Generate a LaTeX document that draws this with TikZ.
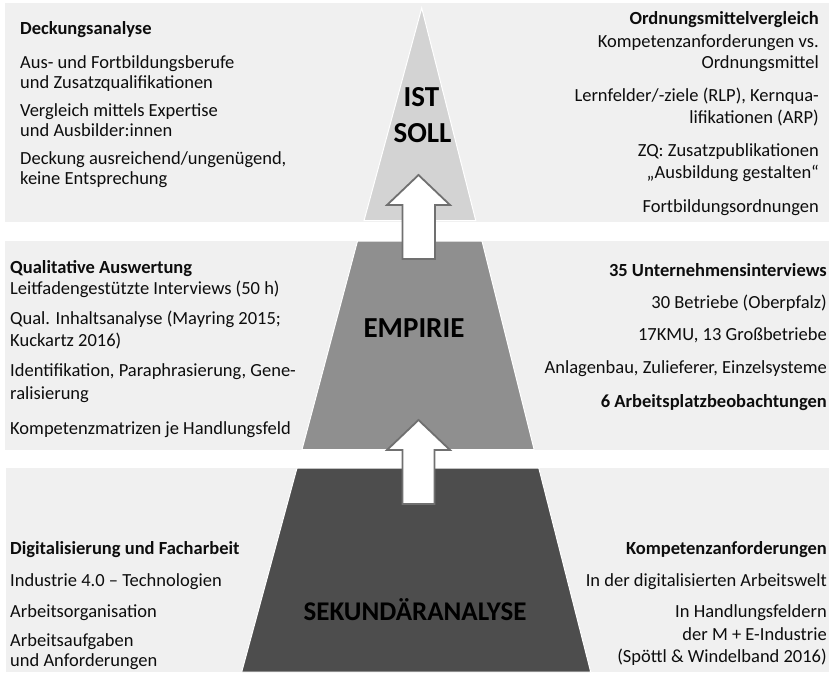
\documentclass[tikz,border=0pt]{standalone}
\usepackage{fontspec}
\setmainfont{Carlito}
\definecolor{bandgray}{HTML}{F0F0F0}
\definecolor{topseg}{HTML}{D3D3D3}
\definecolor{midseg}{HTML}{8F8F8F}
\definecolor{botseg}{HTML}{4D4D4D}
\definecolor{arrowline}{HTML}{707070}
\definecolor{txt}{HTML}{0D0D0D}
\tikzset{
  band/.style={fill=bandgray, draw=none},
  seg/.style={draw=white, line width=1pt},
  uparrow/.style={fill=white, draw=arrowline, line width=1.8pt, line join=miter},
  ltxt/.style={anchor=base west, inner sep=0pt, font=\fontsize{18.5}{21}\selectfont, text=txt},
  rtxt/.style={anchor=base east, inner sep=0pt, font=\fontsize{18.5}{21}\selectfont, text=txt},
  lhead/.style={ltxt, font=\fontsize{18.5}{21}\selectfont\bfseries},
  rhead/.style={rtxt, font=\fontsize{18.5}{21}\selectfont\bfseries},
  biglabel/.style={anchor=center, inner sep=0pt, font=\fontsize{29}{34}\selectfont\bfseries, text=black},
}
\begin{document}
\begin{tikzpicture}[x=1pt,y=-1pt]
\useasboundingbox (0,0) rectangle (829,672);
% bands
\fill[band] (5,3) rectangle (829,221.7);
\fill[band] (5,240.5) rectangle (829,450);
\fill[band] (6,467.7) rectangle (829,672);
% pyramid segments
\filldraw[seg, fill=topseg] (421.7,8) -- (475.8,220.7) -- (364.0,220.7) -- cycle;
\filldraw[seg, fill=midseg] (357.5,241) -- (482.0,241) -- (534.1,449.5) -- (302.0,449.5) -- cycle;
\filldraw[seg, fill=botseg] (297.0,468) -- (538.8,468) -- (590.7,672) -- (241.7,672) -- cycle;
% arrows
\draw[uparrow] (418.5,175) -- (450,205) -- (435,205) -- (435,259) -- (402.5,259) -- (402.5,205) -- (387,205) -- cycle;
\draw[uparrow] (418.5,420) -- (450,450) -- (434.5,450) -- (434.5,504) -- (402.5,504) -- (402.5,450) -- (387,450) -- cycle;
% center labels
\node[biglabel] (ist) at (421.5,97) {IST};
\node[biglabel] (soll) at (422.5,133) {SOLL};
\node[biglabel] (emp) at (414,328) {EMPIRIE};
\node[biglabel, font=\fontsize{27}{32}\selectfont\bfseries] (sek) at (415,610) {SEKUNDÄRANALYSE};
% top left
\node[lhead] (tl0) at (20,34) {Deckungsanalyse};
\node[ltxt] (tl1) at (20,68) {Aus- und Fortbildungsberufe};
\node[ltxt] (tl2) at (20,88) {und Zusatzqualifikationen};
\node[ltxt] (tl3) at (20,116) {Vergleich mittels Expertise};
\node[ltxt] (tl4) at (20,136) {und Ausbilder:innen};
\node[ltxt] (tl5) at (20,164) {Deckung ausreichend/ungenügend,};
\node[ltxt] (tl6) at (20,184) {keine Entsprechung};
% top right
\node[rhead] (tr0) at (819,24) {Ordnungsmittelvergleich};
\node[rtxt] (tr1) at (819,47) {Kompetenzanforderungen vs.};
\node[rtxt] (tr2) at (819,68) {Ordnungsmittel};
\node[rtxt] (tr3) at (819,101) {Lernfelder/-ziele (RLP), Kernqua-};
\node[rtxt] (tr4) at (819,123) {lifikationen (ARP)};
\node[rtxt] (tr5) at (819,156) {ZQ: Zusatzpublikationen};
\node[rtxt] (tr6) at (819,178) {„Ausbildung gestalten“};
\node[rtxt] (tr7) at (819,212) {Fortbildungsordnungen};
% middle left
\node[lhead] (ml0) at (10,273) {Qualitative Auswertung};
\node[ltxt] (ml1) at (10,294) {Leitfadengestützte Interviews (50 h)};
\node[ltxt] (ml2) at (10,324) {Qual. Inhaltsanalyse (Mayring 2015;};
\node[ltxt] (ml3) at (10,346) {Kuckartz 2016)};
\node[ltxt] (ml4) at (10,376) {Identifikation, Paraphrasierung, Gene-};
\node[ltxt] (ml5) at (10,399) {ralisierung};
\node[ltxt] (ml6) at (10,434) {Kompetenzmatrizen je Handlungsfeld};
% middle right
\node[rhead] (mr0) at (827,276) {35 Unternehmensinterviews};
\node[rtxt] (mr1) at (827,308) {30 Betriebe (Oberpfalz)};
\node[rtxt] (mr2) at (827,340) {17KMU, 13 Großbetriebe};
\node[rtxt] (mr3) at (827,373) {Anlagenbau, Zulieferer, Einzelsysteme};
\node[rhead] (mr4) at (827,407) {6 Arbeitsplatzbeobachtungen};
% bottom left
\node[lhead] (bl0) at (10,554) {Digitalisierung und Facharbeit};
\node[ltxt] (bl1) at (10,586) {Industrie 4.0 – Technologien};
\node[ltxt] (bl2) at (10,617) {Arbeitsorganisation};
\node[ltxt] (bl3) at (10,646) {Arbeitsaufgaben};
\node[ltxt] (bl4) at (10,666.5) {und Anforderungen};
% bottom right
\node[rhead] (br0) at (827,554) {Kompetenzanforderungen};
\node[rtxt] (br1) at (827,586) {In der digitalisierten Arbeitswelt};
\node[rtxt] (br2) at (827,617) {In Handlungsfeldern};
\node[rtxt] (br3) at (827,640) {der M + E-Industrie};
\node[rtxt] (br4) at (827,662) {(Spöttl \& Windelband 2016)};
\end{tikzpicture}
\end{document}
